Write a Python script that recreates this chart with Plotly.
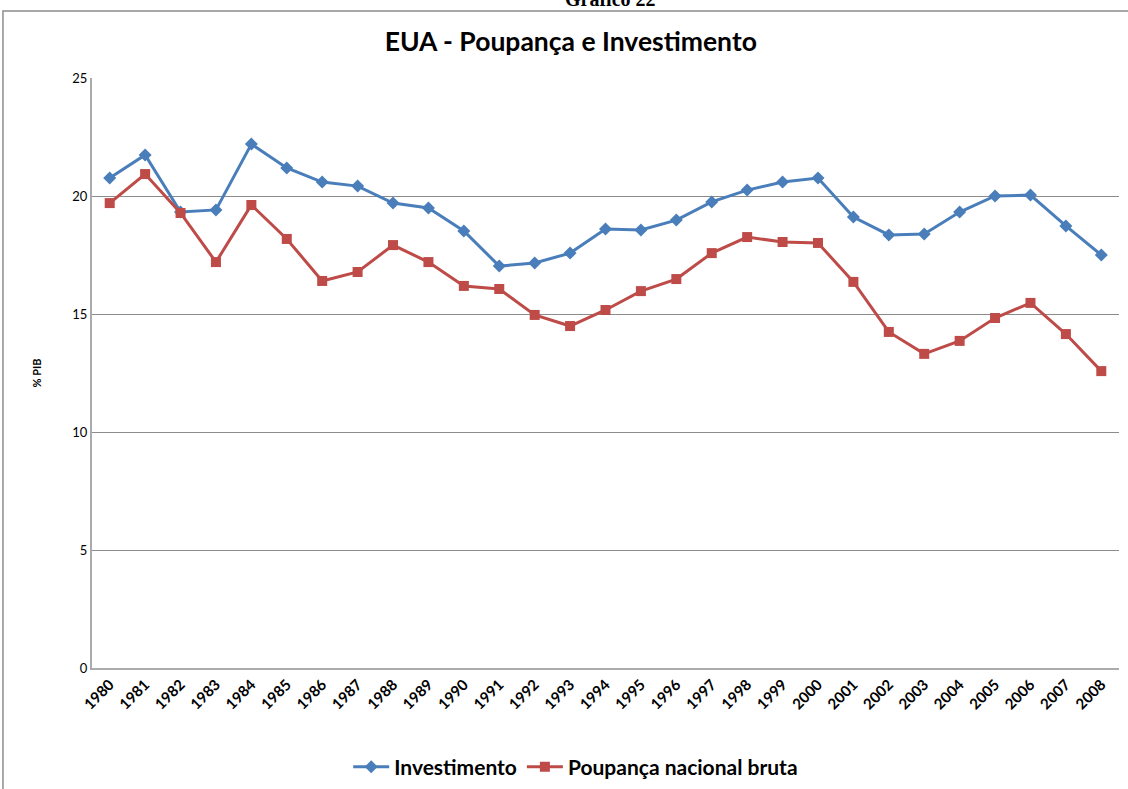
import plotly.graph_objects as go

years = [str(y) for y in range(1980, 2009)]
investimento = [20.76, 21.74, 19.32, 19.41, 22.20, 21.19, 20.59, 20.42, 19.70, 19.49,
                18.52, 17.03, 17.16, 17.58, 18.60, 18.56, 18.98, 19.75, 20.25, 20.59,
                20.76, 19.11, 18.35, 18.39, 19.32, 20.00, 20.04, 18.73, 17.50]
poupanca = [19.70, 20.93, 19.28, 17.20, 19.62, 18.18, 16.40, 16.78, 17.92, 17.20,
            16.19, 16.06, 14.96, 14.49, 15.17, 15.97, 16.48, 17.58, 18.26, 18.05,
            18.01, 16.36, 14.24, 13.31, 13.86, 14.83, 15.47, 14.15, 12.58]
y_ticks = [0, 5, 10, 15, 20, 25]

FONT = "Lato"

fig = go.Figure()
fig.add_trace(go.Scatter(
    x=years, y=investimento, name="<b>Investimento</b>", mode="lines+markers",
    line=dict(color="#4a7ebb", width=3),
    marker=dict(symbol="diamond", size=10, color="#4a7ebb"),
))
fig.add_trace(go.Scatter(
    x=years, y=poupanca, name="<b>Poupança nacional bruta</b>", mode="lines+markers",
    line=dict(color="#be4b48", width=3),
    marker=dict(symbol="square", size=10, color="#be4b48"),
))

fig.update_layout(
    width=1128, height=789,
    margin=dict(l=92, r=9, t=78, b=121, autoexpand=False),
    paper_bgcolor="white", plot_bgcolor="white",
    font=dict(family=FONT, color="black"),
    title=dict(text="<b>EUA - Poupança e Investimento</b>", x=0.506, xanchor="center",
               y=0.947, yanchor="middle", font=dict(size=26.5, family=FONT)),
    showlegend=True,
    legend=dict(orientation="h", x=0.471, xanchor="center", y=-0.168, yanchor="middle",
                font=dict(size=21, family=FONT), itemwidth=36, traceorder="normal"),
    xaxis=dict(type="category", showgrid=False, showline=True, linecolor="#ababab",
               linewidth=2, ticks="", tickangle=-45,
               tickfont=dict(size=15, family=FONT), range=[-0.5, 28.5]),
    yaxis=dict(range=[0, 25], tickvals=y_ticks, showgrid=True, gridcolor="#8c8c8c",
               gridwidth=1, showline=True, linecolor="#ababab", linewidth=2, ticks="",
               tickfont=dict(size=13, family=FONT), zeroline=False,
               title=dict(text="<b>% PIB</b>", font=dict(size=11, family=FONT), standoff=28)),
)
fig.update_xaxes(tickprefix="<b>", ticksuffix="</b>")
fig.update_yaxes(tickprefix="<b>", ticksuffix="</b>")

# outer chart frame (partially visible)
fig.add_shape(type="rect", xref="paper", yref="paper",
              x0=-0.0867, x1=1.02, y0=-0.3, y1=1.1136,
              line=dict(color="#8c8c8c", width=1.5), layer="below")
fig.add_annotation(text="<b>Gráfico 22</b>", xref="paper", yref="paper",
                   x=0.505, y=1.112, showarrow=False, yanchor="bottom",
                   font=dict(family="Liberation Serif", size=20))

fig.write_html("out.html", config={"displayModeBar": False},
               post_script="document.body.style.margin='0';document.body.style.overflow='hidden';")
